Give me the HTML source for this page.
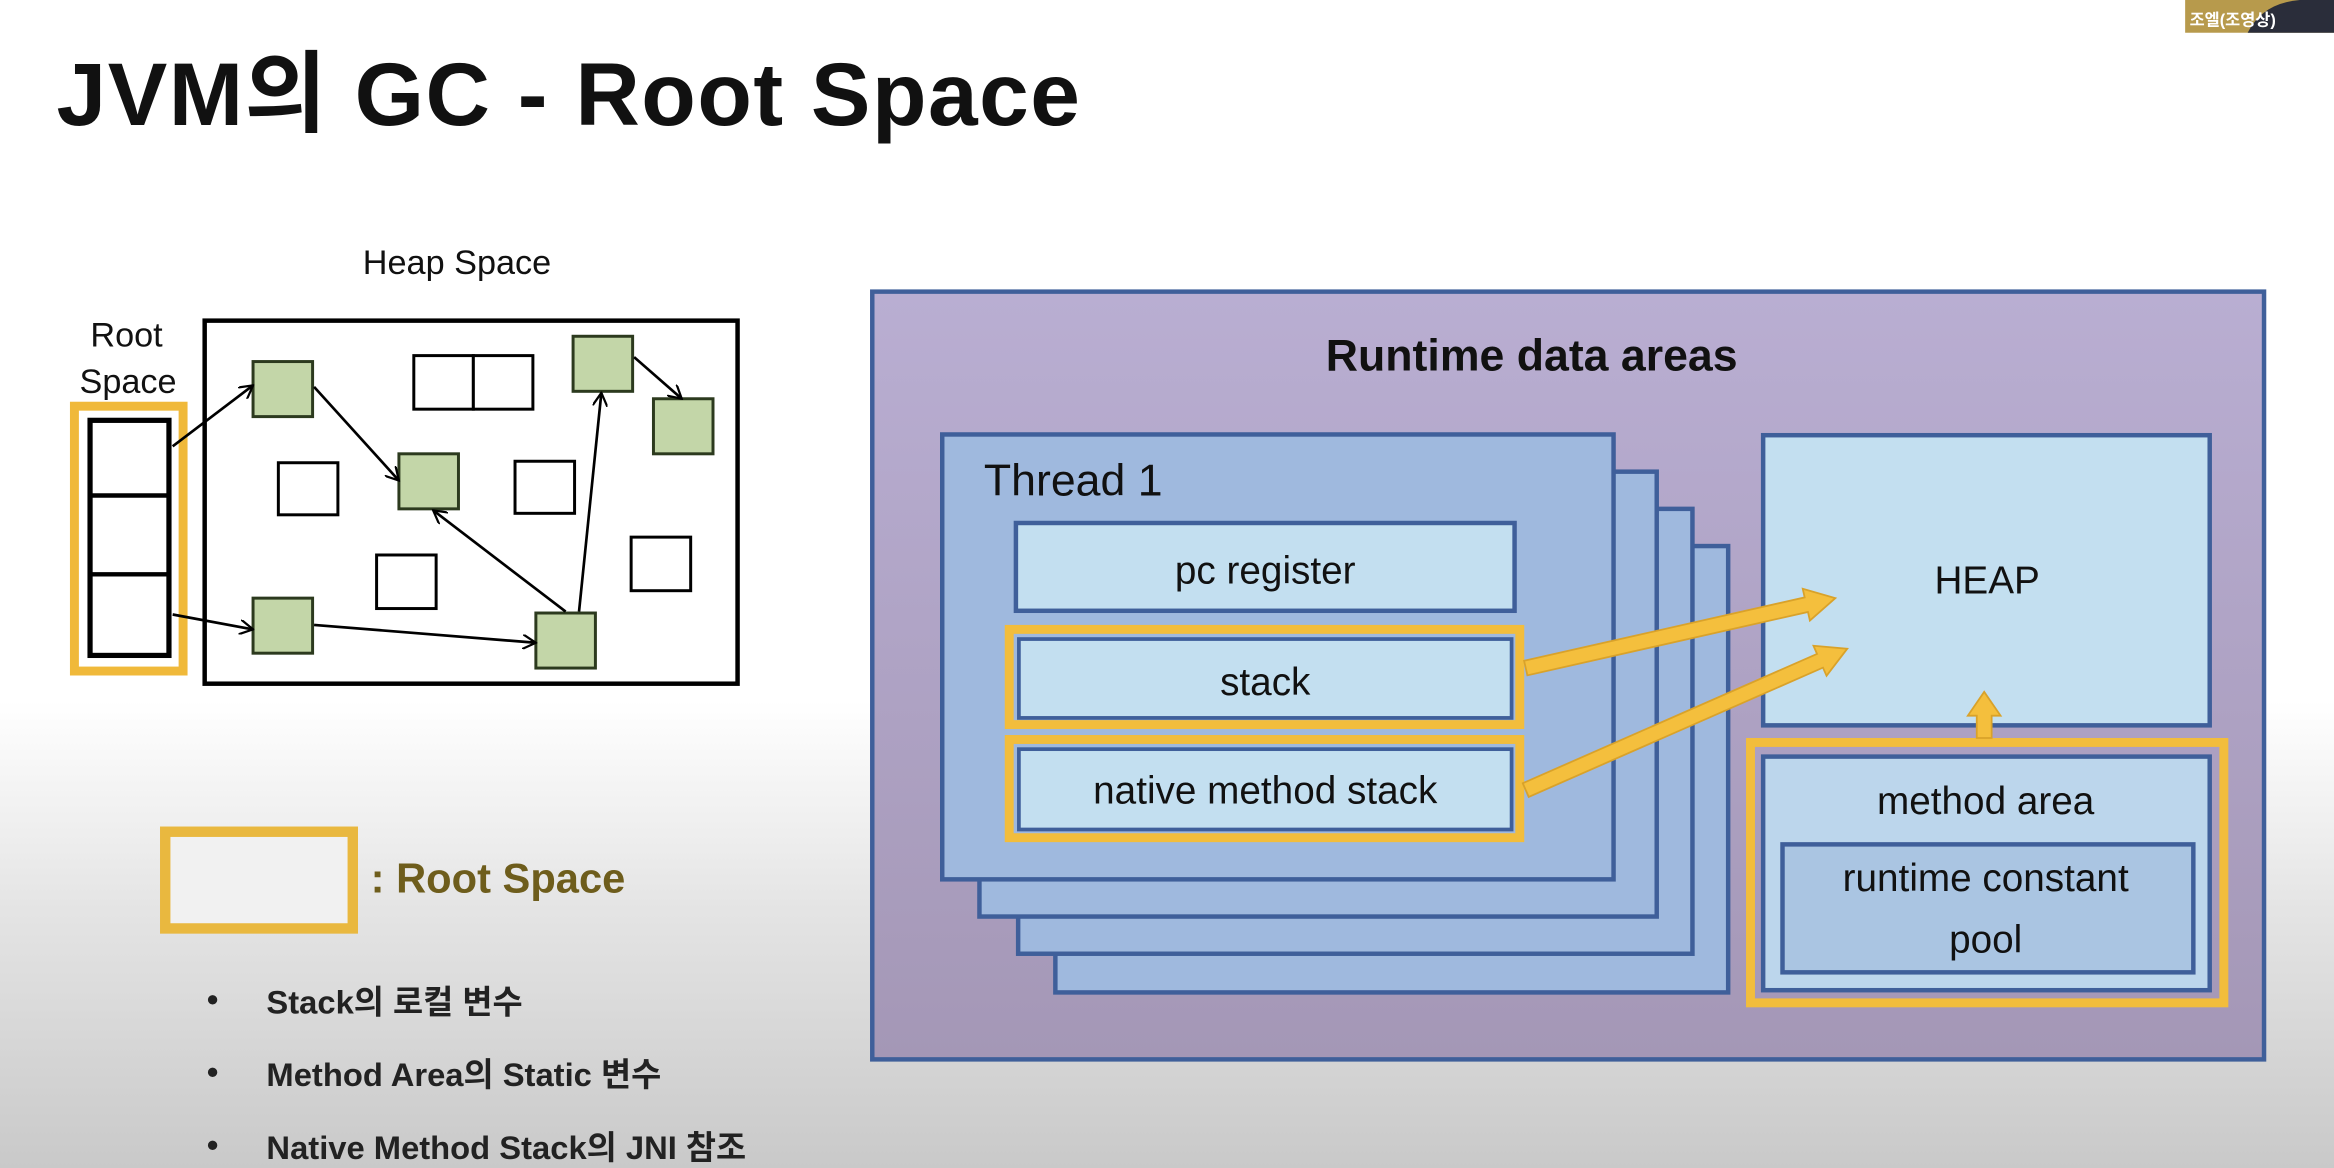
<!DOCTYPE html>
<html><head><meta charset="utf-8"><style>
html,body{margin:0;padding:0;width:2334px;height:1168px;overflow:hidden;background:#fff}
svg{display:block}
text{font-family:"Liberation Sans","Noto Sans CJK KR",sans-serif}
</style></head><body>
<svg width="2334" height="1168" viewBox="0 0 1568 785" preserveAspectRatio="none" xmlns="http://www.w3.org/2000/svg">
<defs>
<linearGradient id="bg" x1="0" y1="0" x2="0" y2="1">
<stop offset="0" stop-color="#ffffff"/><stop offset="0.6" stop-color="#ffffff"/><stop offset="0.78" stop-color="#e4e4e4"/><stop offset="1" stop-color="#c9c9c9"/>
</linearGradient>
<linearGradient id="pu" x1="0" y1="0" x2="0" y2="1">
<stop offset="0" stop-color="#b9aed2"/><stop offset="1" stop-color="#a497b6"/>
</linearGradient>
<marker id="ah" markerWidth="10" markerHeight="10" refX="9" refY="5" orient="auto" markerUnits="userSpaceOnUse">
<path d="M0,0 L9,5 L0,10" fill="none" stroke="#000" stroke-width="1.5"/>
</marker>
</defs>
<rect width="1568" height="785" fill="url(#bg)"/>
<!-- name tag -->
<rect x="1468" y="0" width="100" height="22" fill="#b79a4c"/>
<path d="M1510,22 Q1520,2 1545,0 L1568,0 L1568,22 Z" fill="#2a2d3a"/>
<text x="1471" y="17" font-size="11" font-weight="bold" fill="#fff">조엘(조영상)</text>
<!-- title -->
<text x="38" y="84" font-size="60" font-weight="bold" letter-spacing="1" fill="#111">JVM의 GC - Root Space</text>
<!-- heap diagram -->
<text x="307" y="184" font-size="23" text-anchor="middle" fill="#111">Heap Space</text>
<text x="85" y="233" font-size="23" text-anchor="middle" fill="#111">Root</text>
<text x="86" y="264" font-size="23" text-anchor="middle" fill="#111">Space</text>
<rect x="137.5" y="215.5" width="358" height="244" fill="#fff" stroke="#000" stroke-width="3"/>
<rect x="50" y="273" width="73" height="178" fill="#fff" stroke="#f0b93a" stroke-width="6"/>
<rect x="60.5" y="282.5" width="53" height="158" fill="#fff" stroke="#000" stroke-width="3.5"/>
<line x1="60" y1="333" x2="114" y2="333" stroke="#000" stroke-width="3"/>
<line x1="60" y1="386" x2="114" y2="386" stroke="#000" stroke-width="3"/>
<g fill="#fff" stroke="#000" stroke-width="2">
<rect x="278" y="239" width="40" height="36"/><rect x="318" y="239" width="40" height="36"/>
<rect x="187" y="311" width="40" height="35"/><rect x="346" y="310" width="40" height="35"/>
<rect x="253" y="373" width="40" height="36"/><rect x="424" y="361" width="40" height="36"/>
</g>
<g fill="#c3d6a8" stroke="#2c3a1e" stroke-width="2">
<rect x="170" y="243" width="40" height="37"/><rect x="268" y="305" width="40" height="37"/>
<rect x="385" y="226" width="40" height="37"/><rect x="439" y="268" width="40" height="37"/>
<rect x="170" y="402" width="40" height="37"/><rect x="360" y="412" width="40" height="37"/>
</g>
<g stroke="#000" stroke-width="1.8" fill="none" marker-end="url(#ah)">
<line x1="116" y1="300" x2="170" y2="259"/>
<line x1="211" y1="260" x2="268" y2="323"/>
<line x1="380" y1="411" x2="291" y2="343"/>
<line x1="389" y1="411" x2="404" y2="264"/>
<line x1="426" y1="240" x2="458" y2="268"/>
<line x1="116" y1="413" x2="170" y2="423"/>
<line x1="211" y1="420" x2="360" y2="432"/>
</g>
<!-- legend -->
<rect x="111" y="559" width="126" height="65" fill="#f1f1f1" stroke="#e9b83f" stroke-width="7"/>
<text x="249" y="600" font-size="28" font-weight="bold" fill="#6e5d1c">: Root Space</text>
<g font-size="22" font-weight="bold" fill="#222">
<text x="139" y="679">•</text><text x="179" y="681">Stack의 로컬 변수</text>
<text x="139" y="728">•</text><text x="179" y="730">Method Area의 Static 변수</text>
<text x="139" y="777">•</text><text x="179" y="779">Native Method Stack의 JNI 참조</text>
</g>
<!-- runtime data areas -->
<rect x="586" y="196" width="935" height="516" fill="url(#pu)" stroke="#3f5f9a" stroke-width="3"/>
<text x="1029" y="249" font-size="30" font-weight="bold" text-anchor="middle" fill="#111">Runtime data areas</text>
<g fill="#9fb9de" stroke="#3f5f9a" stroke-width="3">
<rect x="709" y="367" width="452" height="300"/>
<rect x="684" y="342" width="453" height="299"/>
<rect x="658" y="317" width="455" height="299"/>
<rect x="633" y="292" width="451" height="299"/>
</g>
<text x="661" y="333" font-size="30" fill="#111">Thread 1</text>
<rect x="682.5" y="351.5" width="335" height="59" fill="#c3dff0" stroke="#3f5f9a" stroke-width="3"/>
<text x="850" y="392" font-size="26" text-anchor="middle" fill="#111">pc register</text>
<rect x="678" y="423" width="343" height="64" fill="none" stroke="#f2bd3c" stroke-width="6"/>
<rect x="684.5" y="429.5" width="331" height="53" fill="#c3dff0" stroke="#3f5f9a" stroke-width="2.5"/>
<text x="850" y="467" font-size="26" text-anchor="middle" fill="#111">stack</text>
<rect x="678" y="497" width="343" height="66" fill="none" stroke="#f2bd3c" stroke-width="6"/>
<rect x="684.5" y="503.5" width="331" height="54" fill="#c3dff0" stroke="#3f5f9a" stroke-width="2.5"/>
<text x="850" y="540" font-size="26" text-anchor="middle" fill="#111">native method stack</text>
<rect x="1184.5" y="292.5" width="300" height="195" fill="#c3dff0" stroke="#3f5f9a" stroke-width="3"/>
<text x="1335" y="399" font-size="26" text-anchor="middle" fill="#111">HEAP</text>
<rect x="1176" y="499" width="318" height="175" fill="none" stroke="#f2bd3c" stroke-width="6"/>
<rect x="1184.5" y="508.5" width="300" height="157" fill="#bcd6ec" stroke="#3f5f9a" stroke-width="3"/>
<text x="1334" y="547" font-size="26" text-anchor="middle" fill="#111">method area</text>
<rect x="1197.5" y="567.5" width="276" height="86" fill="#aac5e2" stroke="#3f5f9a" stroke-width="3"/>
<text x="1334" y="599" font-size="26" text-anchor="middle" fill="#111">runtime constant</text>
<text x="1334" y="640" font-size="26" text-anchor="middle" fill="#111">pool</text>
<!-- yellow arrows -->
<g fill="#f4bf3d" stroke="#d9a22a" stroke-width="1.2">
<polygon points="1023.9,444.1 1212.4,401.5 1211.1,395.7 1233,402 1215.9,417.1 1214.6,411.3 1026.1,453.9"/>
<polygon points="1023,526.4 1220.7,439.5 1218.3,434 1241,436 1227.1,454.2 1224.7,448.7 1027,535.6"/>
<polygon points="1328,496 1328,481 1322,481 1333,465 1344,481 1338,481 1338,496"/>
</g>
</svg>
</body></html>
